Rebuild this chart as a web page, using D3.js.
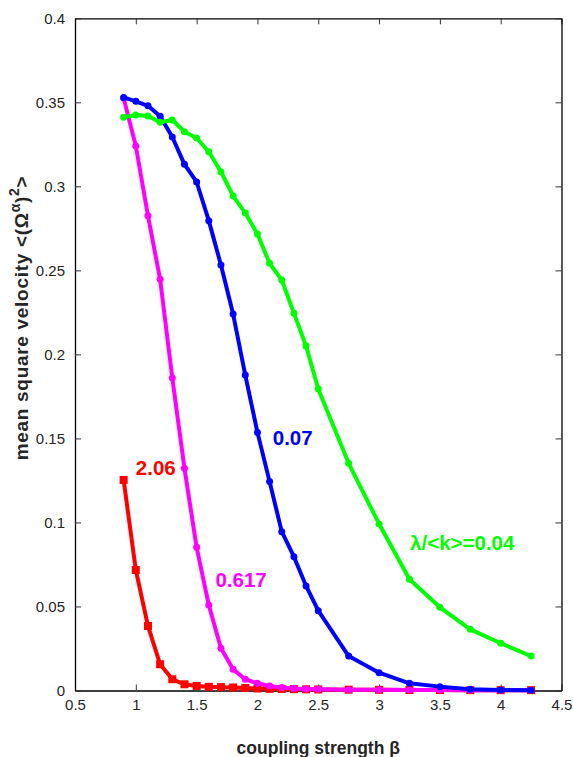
<!DOCTYPE html>
<html>
<head>
<meta charset="utf-8">
<script src="https://cdn.jsdelivr.net/npm/d3@7"></script>
<style>
  body { margin: 0; background: #fff; }
  svg { display: block; font-family: "Liberation Sans", Arial, sans-serif; }
</style>
</head>
<body>
<div id="chart"></div>
<script>
// coupling strength beta (shared by all four curves)
const beta = [0.9, 1.0, 1.1, 1.2, 1.3, 1.4, 1.5, 1.6, 1.7, 1.8, 1.9, 2.0, 2.1, 2.2, 2.3, 2.4,
  2.5, 2.75, 3.0, 3.25, 3.5, 3.75, 4.0, 4.25];

// lambda/<k> = 2.06
const velRed = [0.1253, 0.0717, 0.0384, 0.0156, 0.0067, 0.0037, 0.0027, 0.0022, 0.0020, 0.0018,
  0.0015, 0.0012, 0.0010, 0.0009, 0.0008, 0.0007, 0.0006, 0.0005, 0.0004, 0.0003, 0.0003,
  0.0002, 0.0002, 0.0002];
// lambda/<k> = 0.617
const velMagenta = [0.3525, 0.3240, 0.2825, 0.2447, 0.1860, 0.1322, 0.0852, 0.0509, 0.0251, 0.0126,
  0.0067, 0.0043, 0.0027, 0.0018, 0.0012, 0.0009, 0.0007, 0.0005, 0.0004, 0.0003, 0.0003,
  0.0002, 0.0002, 0.0002];
// lambda/<k> = 0.07
const velBlue = [0.3529, 0.3506, 0.3479, 0.3417, 0.3294, 0.3131, 0.3026, 0.2796, 0.2532, 0.2240,
  0.1877, 0.1536, 0.1243, 0.0945, 0.0796, 0.0622, 0.0475, 0.0205, 0.0106, 0.0043, 0.0023,
  0.0007, 0.0003, 0.0002];
// lambda/<k> = 0.04
const velGreen = [0.3411, 0.3425, 0.3419, 0.3381, 0.3395, 0.3325, 0.3288, 0.3206, 0.3087, 0.2943,
  0.2841, 0.2716, 0.2542, 0.2443, 0.2245, 0.2050, 0.1794, 0.1352, 0.0991, 0.0662, 0.0495,
  0.0364, 0.0281, 0.0205];

const xTicks = [0.5, 1, 1.5, 2, 2.5, 3, 3.5, 4, 4.5];
const yTicks = [0, 0.05, 0.1, 0.15, 0.2, 0.25, 0.3, 0.35, 0.4];

const width = 573;
const height = 757;
const margin = { top: 18.3, right: 11.5, bottom: 66.5, left: 75 };

const svg = d3.select('#chart')
  .append('svg')
  .attr('width', width)
  .attr('height', height);

const xScale = d3.scaleLinear()
  .domain([0.5, 4.5])
  .range([margin.left, width - margin.right]);
const yScale = d3.scaleLinear()
  .domain([0, 0.4])
  .range([height - margin.bottom, margin.top]);

const fmt = d => String(d);

// axes: ticks point inward on all four sides (matlab box)
function styleAxis(g) {
  g.selectAll('path').attr('stroke', '#000').attr('stroke-width', 1.3);
  g.selectAll('line').attr('stroke', '#333').attr('stroke-width', 1);
  g.selectAll('text').attr('font-size', 15).attr('fill', '#262626')
    .attr('font-family', '"Liberation Sans", Arial, sans-serif');
}

svg.append('g')
  .attr('transform', `translate(0, ${yScale(0)})`)
  .call(d3.axisBottom(xScale).tickValues(xTicks).tickFormat(fmt)
    .tickSizeInner(-6).tickSizeOuter(0).tickPadding(9))
  .call(styleAxis);
svg.append('g')
  .attr('transform', `translate(0, ${yScale(0.4)})`)
  .call(d3.axisTop(xScale).tickValues(xTicks).tickFormat('')
    .tickSizeInner(-6).tickSizeOuter(0))
  .call(styleAxis);
svg.append('g')
  .attr('transform', `translate(${xScale(0.5)}, 0)`)
  .call(d3.axisLeft(yScale).tickValues(yTicks).tickFormat(fmt)
    .tickSizeInner(-6).tickSizeOuter(0).tickPadding(10))
  .call(styleAxis);
svg.append('g')
  .attr('transform', `translate(${xScale(4.5)}, 0)`)
  .call(d3.axisRight(yScale).tickValues(yTicks).tickFormat('')
    .tickSizeInner(-6).tickSizeOuter(0))
  .call(styleAxis);

// curves, drawn back to front
const series = [
  { values: velRed, color: '#ff0000', marker: 'square' },
  { values: velMagenta, color: '#ff00ff', marker: 'dot' },
  { values: velBlue, color: '#0000ff', marker: 'dot' },
  { values: velGreen, color: '#00ff00', marker: 'dot' }
];

const line = d3.line()
  .x(d => xScale(d[0]))
  .y(d => yScale(d[1]));

series.forEach(s => {
  const pts = beta.map((b, i) => [b, s.values[i]]);
  const g = svg.append('g').attr('class', 'curve');
  g.append('path')
    .datum(pts)
    .attr('d', line)
    .attr('fill', 'none')
    .attr('stroke', s.color)
    .attr('stroke-width', 4)
    .attr('stroke-linejoin', 'round');
  if (s.marker === 'square') {
    g.selectAll('rect')
      .data(pts)
      .join('rect')
      .attr('x', d => xScale(d[0]) - 4)
      .attr('y', d => yScale(d[1]) - 4)
      .attr('width', 8)
      .attr('height', 8)
      .attr('fill', s.color);
  } else {
    g.selectAll('circle')
      .data(pts)
      .join('circle')
      .attr('cx', d => xScale(d[0]))
      .attr('cy', d => yScale(d[1]))
      .attr('r', 3.5)
      .attr('fill', s.color);
  }
});

// curve labels (data coords)
const labels = [
  { text: '2.06', x: 1.0, y: 0.1282, color: '#ff0000' },
  { text: '0.617', x: 1.655, y: 0.0616, color: '#ff00ff' },
  { text: '0.07', x: 2.126, y: 0.1461, color: '#0000ff' },
  { text: 'λ/<k>=0.04', x: 3.255, y: 0.0836, color: '#00ff00' }
];
svg.append('g')
  .selectAll('text')
  .data(labels)
  .join('text')
  .attr('x', d => xScale(d.x))
  .attr('y', d => yScale(d.y))
  .attr('fill', d => d.color)
  .attr('font-size', 20.5)
  .attr('font-weight', 700)
  .text(d => d.text);

// axis titles
svg.append('text')
  .attr('x', (xScale(0.5) + xScale(4.5)) / 2)
  .attr('y', 754)
  .attr('text-anchor', 'middle')
  .attr('font-size', 17.5)
  .attr('font-weight', 700)
  .attr('fill', '#262626')
  .text('coupling strength β');

const yTitle = svg.append('text')
  .attr('transform', `translate(28, 318) rotate(-90)`)
  .attr('text-anchor', 'middle')
  .attr('font-size', 19)
  .attr('font-weight', 700)
  .attr('letter-spacing', 0.7)
  .attr('fill', '#262626');
yTitle.append('tspan').text('mean square velocity <(Ω');
yTitle.append('tspan').attr('dy', -8).attr('font-size', 14).text('α');
yTitle.append('tspan').attr('dy', 8).text(')');
yTitle.append('tspan').attr('dy', -9).attr('font-size', 14).text('2');
yTitle.append('tspan').attr('dy', 9).text('>');
</script>
</body>
</html>
